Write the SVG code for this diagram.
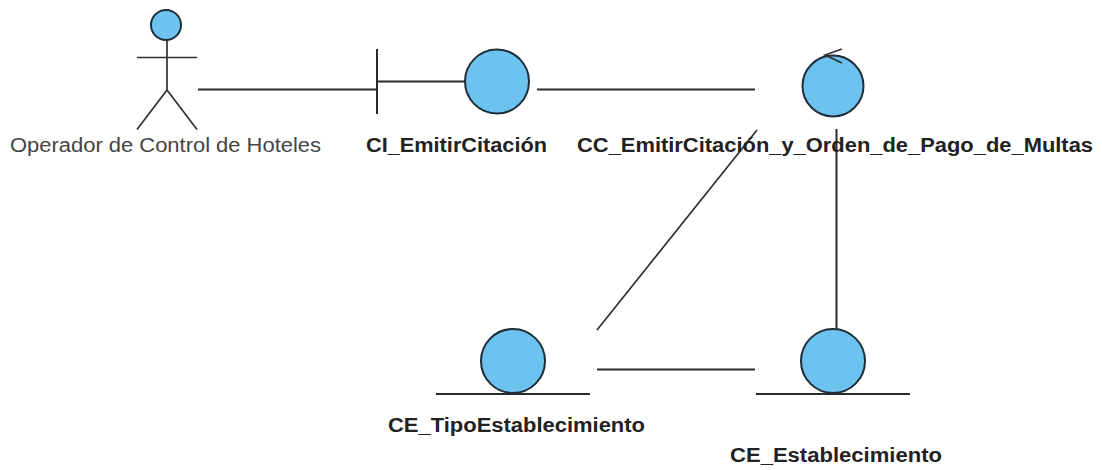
<svg xmlns="http://www.w3.org/2000/svg" width="1102" height="470" viewBox="0 0 1102 470">
<style>
.l{stroke:#2a2a2a;stroke-width:2;fill:none}
.s{stroke:#303030;stroke-width:1.7;fill:none}
.c{fill:#6cc3f0;stroke:#1f2d38;stroke-width:2}
text{font-family:"Liberation Sans",Arial,sans-serif;font-size:20px;fill:#222;font-weight:bold}
text.n{font-weight:normal;fill:#444}
</style>
<rect width="1102" height="470" fill="#fff"/>
<g id="connectors">
<path class="l" d="M198 89.500H376"/>
<path class="l" d="M537 89.500H755"/>
<path class="s" d="M757 130L597 330"/>
<path class="l" d="M836.500 129V330"/>
<path class="l" d="M597 369.500H755"/>
</g>
<g id="actor">
<circle class="c" cx="166" cy="25" r="15"/>
<path class="s" d="M167 40V90M137 57.500H197M167 90L137 129.500M167 90L197 129.500"/>
<text class="n" x="10" y="152" textLength="311" lengthAdjust="spacingAndGlyphs">Operador de Control de Hoteles</text>
</g>
<g id="boundary">
<path class="l" d="M377 49V114M377 81.500H465"/>
<circle class="c" cx="497" cy="81.500" r="32"/>
<text x="366" y="152" textLength="181" lengthAdjust="spacingAndGlyphs">CI_EmitirCitación</text>
</g>
<g id="control">
<circle class="c" cx="833" cy="86" r="30.500"/>
<path class="s" d="M842 49L825 55L842 63"/>
<text x="577" y="152" textLength="516" lengthAdjust="spacingAndGlyphs">CC_EmitirCitación_y_Orden_de_Pago_de_Multas</text>
</g>
<g id="entity-tipo">
<circle class="c" cx="513" cy="361" r="32"/>
<path class="l" d="M436 394H590"/>
<text x="388" y="432" textLength="257" lengthAdjust="spacingAndGlyphs">CE_TipoEstablecimiento</text>
</g>
<g id="entity-est">
<circle class="c" cx="833" cy="361" r="32"/>
<path class="l" d="M756 394H910"/>
<text x="730" y="462" textLength="212" lengthAdjust="spacingAndGlyphs">CE_Establecimiento</text>
</g>
</svg>
